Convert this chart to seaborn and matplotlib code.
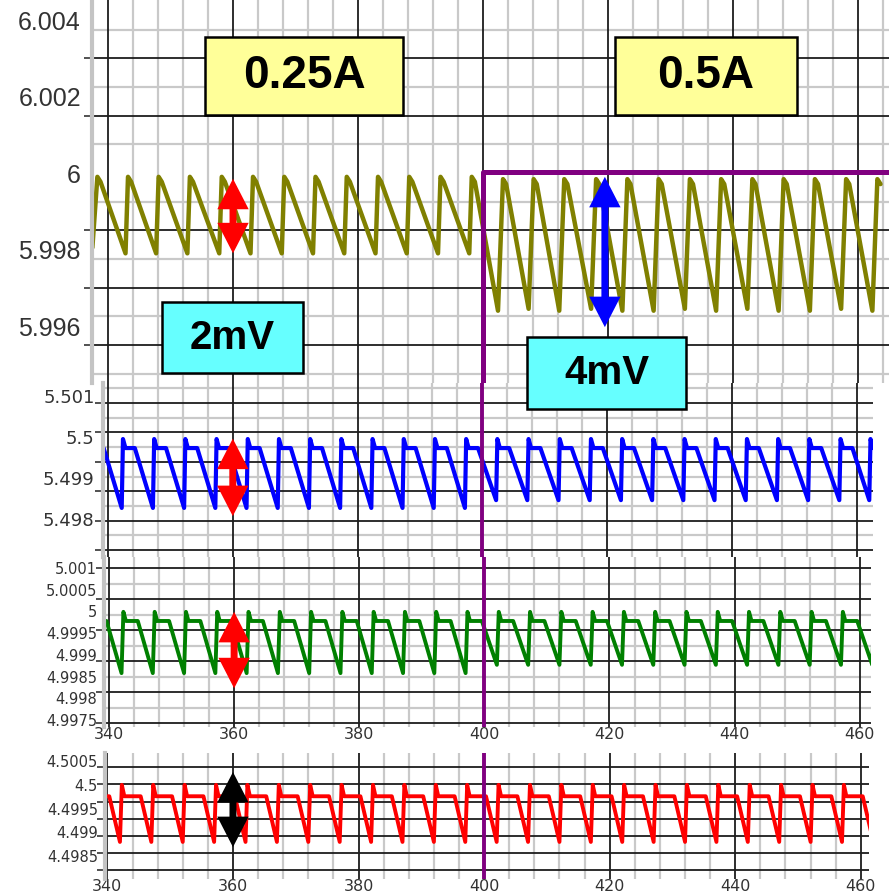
import numpy as np
import pandas as pd
import matplotlib
matplotlib.use("Agg")
import matplotlib.pyplot as plt
import seaborn as sns
from matplotlib.patches import Rectangle
from matplotlib.ticker import FixedLocator, MultipleLocator

# ------------------------------------------------------------------ data
time_ticks = [340, 360, 380, 400, 420, 440, 460]
time_labels = ["340", "360", "380", "400", "420", "440", "460"]

# load current step (A)
load_t = [337.0, 400.0, 466.0]
load_a = [0.25, 0.5, 0.5]

# 6 V rail (olive) – peaks / troughs of each ripple cycle
v6_peak_t = [338.3, 343.2, 348.1, 353.1, 358.2, 363.2, 368.2, 373.2, 378.2, 383.2,
             388.2, 393.2, 398.2, 403.2, 408.1, 413.0, 418.1, 423.1, 428.1, 433.1,
             438.1, 443.1, 448.1, 453.1, 458.1, 463.1]
v6_trough_t = [337.5, 342.8, 347.7, 352.7, 357.8, 362.8, 367.8, 372.8, 377.8, 382.8,
               387.8, 392.8, 397.8, 402.4, 407.3, 412.2, 417.3, 422.3, 427.3, 432.3,
               437.3, 442.3, 447.3, 452.3, 457.3, 462.3]
v6_peak_v = [5.99990, 5.99990, 5.99990, 5.99990, 5.99990, 5.99990, 5.99990, 5.99990,
             5.99990, 5.99990, 5.99990, 5.99990, 5.99990, 5.99984, 5.99984, 5.99984,
             5.99984, 5.99984, 5.99984, 5.99984, 5.99984, 5.99984, 5.99984, 5.99984,
             5.99984, 5.99984]
v6_trough_v = [5.99805, 5.99790, 5.99790, 5.99790, 5.99790, 5.99790, 5.99790, 5.99790,
               5.99790, 5.99790, 5.99790, 5.99790, 5.99790, 5.99640, 5.99645, 5.99640,
               5.99645, 5.99640, 5.99640, 5.99645, 5.99640, 5.99645, 5.99640, 5.99640,
               5.99645, 5.99640]

# 5.5 V rail (blue)
v55_spike_t = [337.4, 342.4, 347.4, 352.4, 357.4, 362.4, 367.4, 372.4, 377.4, 382.4,
               387.4, 392.4, 397.4, 402.4, 407.4, 412.4, 417.4, 422.4, 427.4, 432.4,
               437.4, 442.4, 447.4, 452.4, 457.4, 462.2]
v55_trough_v = [5.49827] * 13 + [5.49846] * 13
v55_levels = [5.49995, 5.49973]          # spike, plateau

# 5 V rail (green)
v5_spike_t = [337.3, 342.3, 347.3, 352.3, 357.3, 362.3, 367.3, 372.3, 377.3, 382.3,
              387.3, 392.3, 397.3, 402.3, 407.3, 412.3, 417.3, 422.3, 427.3, 432.3,
              437.3, 442.3, 447.3, 452.3, 457.3, 462.3]
v5_trough_v = [4.99858] * 13 + [4.99877] * 13
v5_levels = [4.99999, 4.99978]

# 4.5 V rail (red)
v45_spike_t = [337.3, 342.3, 347.3, 352.3, 357.3, 362.3, 367.3, 372.3, 377.3, 382.3,
               387.3, 392.3, 397.3, 402.3, 407.3, 412.3, 417.3, 422.3, 427.3, 432.3,
               437.3, 442.3, 447.3, 452.3, 457.3, 462.3]
v45_trough_v = [4.49880] * 26
v45_levels = [4.50000, 4.49976]

# axis tick labels
v6_ticks = [6.004, 6.002, 6.0, 5.998, 5.996]
v6_ticklabels = ["6.004", "6.002", "6", "5.998", "5.996"]
v55_ticks = [5.501, 5.5, 5.499, 5.498]
v55_ticklabels = ["5.501", "5.5", "5.499", "5.498"]
v5_ticks = [5.001, 5.0005, 5.0, 4.9995, 4.999, 4.9985, 4.998, 4.9975]
v5_ticklabels = ["5.001", "5.0005", "5", "4.9995", "4.999", "4.9985", "4.998", "4.9975"]
v45_ticks = [4.5005, 4.5, 4.4995, 4.499, 4.4985]
v45_ticklabels = ["4.5005", "4.5", "4.4995", "4.499", "4.4985"]

# ripple markers (arrow spans)
arrow_v6_low = [360.0, 5.99985, 5.99790]
arrow_v6_high = [419.5, 5.99990, 5.99597]
arrow_v55 = [360.0, 5.49996, 5.49807]
arrow_v5 = [360.0, 4.99999, 4.99823]
arrow_v45 = [360.0, 4.50027, 4.49869]

# ------------------------------------------------------------------ style
sns.set_theme(style="white")
plt.rcParams["font.family"] = ["DejaVu Sans"]

W, H = 889, 896
fig = plt.figure(figsize=(W / 100, H / 100), dpi=100)
fig.patch.set_facecolor("white")


def fx(px):
    return px / W


def fy(py):
    return 1 - py / H


def add_ax(x0, y0, x1, y1):
    return fig.add_axes([fx(x0), fy(y1), fx(x1) - fx(x0), fy(y0) - fy(y1)])


ax1 = add_ax(92, 0, 889, 383)
ax2 = add_ax(103, 383, 873, 557)
ax3 = add_ax(104, 557, 871, 727)
ax4 = add_ax(105, 753, 869, 879)

BLACK = "#1c1c1c"
LIGHT = "#c9c9c9"
TXT = "#333333"


def style(ax, xlim, ylim, yt, ytl, grid_y, light_y, lab_size, lab_font, pad, show_x):
    ax.set_facecolor("white")
    ax.set_axisbelow(True)
    ax.set_xlim(*xlim)
    ax.set_ylim(*ylim)
    ax.xaxis.set_major_locator(FixedLocator(time_ticks))
    ax.xaxis.set_minor_locator(MultipleLocator(4))
    ax.grid(True, which="major", axis="x", color=BLACK, lw=1.3)
    ax.grid(True, which="minor", axis="x", color=LIGHT, lw=1.6)
    ax.set_yticks(yt)
    ax.set_yticklabels(ytl, fontfamily=lab_font, fontsize=lab_size, color=TXT)
    ax.yaxis.set_minor_locator(FixedLocator(grid_y))
    ax.grid(False, which="major", axis="y")
    ax.grid(True, which="minor", axis="y", color=BLACK, lw=1.3)
    for yv in light_y:
        ax.axhline(yv, color=LIGHT, lw=1.6, zorder=0.3)
    ax.tick_params(axis="y", which="major", length=0, pad=pad)
    ax.tick_params(axis="y", which="minor", length=6, width=1.2, color=TXT,
                   direction="out", left=True)
    ax.tick_params(axis="x", which="both", length=0, bottom=False)
    if show_x:
        ax.set_xticklabels(time_labels, fontsize=11.5, color=TXT)
        ax.tick_params(axis="x", which="major", pad=0, labelbottom=True)
    else:
        ax.tick_params(axis="x", labelbottom=False)
    for s in ["top", "right", "bottom"]:
        ax.spines[s].set_visible(False)
    ax.spines["left"].set_color("#c4c4c4")
    ax.spines["left"].set_linewidth(3.0)
    ax.set_xlabel("")
    ax.set_ylabel("")


# grid line positions (decoration)
g1 = 5.9955 + 0.0015 * np.arange(6)
l1 = np.append(g1 - 0.00075, g1[-1] + 0.00075)
g2 = 5.49724 + 0.000718 * np.arange(6)
l2 = np.append(g2 - 0.000359, g2[-1] + 0.000359)
g3 = 4.997429 + 0.000714 * np.arange(6)
l3 = g3[1:] - 0.000357
g4 = 4.498204 + 0.000361 * np.arange(7)

style(ax1, (337.44, 464.96), (5.99451, 6.004523), v6_ticks, v6_ticklabels, g1, l1,
      18, ["Liberation Sans Narrow", "Liberation Sans"], 8, False)
style(ax2, (339.2, 462.6), (5.497073, 5.501317), v55_ticks, v55_ticklabels, g2, l2,
      13, "DejaVu Sans", 6, False)
style(ax3, (339.2, 461.8), (4.997339, 5.001253), v5_ticks, v5_ticklabels, g3, l3,
      10.5, "DejaVu Sans", 5, True)
style(ax4, (339.62, 461.3), (4.498020, 4.500670), v45_ticks, v45_ticklabels, g4, [],
      10.5, "DejaVu Sans", 5, True)

# ------------------------------------------------------------------ traces
# olive 6 V rail
t6, y6 = [], []
for tt, tv, pt, pv in zip(v6_trough_t, v6_trough_v, v6_peak_t, v6_peak_v):
    t6 += [tt, pt, pt + 0.5]
    y6 += [tv, pv, pv - 0.00013]
df6 = pd.DataFrame({"t": t6, "v": y6})
sns.lineplot(data=df6, x="t", y="v", ax=ax1, color="#808000", linewidth=3.2,
             estimator=None, sort=False, zorder=2)


def switching(spike_t, trough_v, levels, rise, plateau_end):
    t, v = [], []
    for s, tv in zip(spike_t, trough_v):
        t += [s - rise, s, s + 0.4, s + plateau_end]
        v += [tv, levels[0], levels[1], levels[1]]
    return pd.DataFrame({"t": t, "v": v})


df55 = switching(v55_spike_t, v55_trough_v, v55_levels, 0.2, 1.9)
df5 = switching(v5_spike_t, v5_trough_v, v5_levels, 0.3, 2.3)
df45 = switching(v45_spike_t, v45_trough_v, v45_levels, 0.3, 3.0)
sns.lineplot(data=df55, x="t", y="v", ax=ax2, color="#0000ff", linewidth=3.0,
             estimator=None, sort=False, zorder=2)
sns.lineplot(data=df5, x="t", y="v", ax=ax3, color="#008000", linewidth=2.8,
             estimator=None, sort=False, zorder=2)
sns.lineplot(data=df45, x="t", y="v", ax=ax4, color="#ff0000", linewidth=2.8,
             estimator=None, sort=False, zorder=2)
for ax in (ax1, ax2, ax3, ax4):
    ax.set_xlabel("")
    ax.set_ylabel("")

# load current step (purple)
axi = ax1.twinx()
sns.lineplot(x=load_t, y=load_a, ax=axi, color="#800080", linewidth=3.6,
             drawstyle="steps-post", estimator=None, sort=False)
axi.set_ylim(0.3, 0.663)
axi.set_xlim(ax1.get_xlim())
axi.axis("off")
for ax in (ax2, ax3, ax4):
    ax.axvline(load_t[1], color="#800080", lw=2.8, zorder=3)

# ------------------------------------------------------------------ arrows
def dbl_arrow(ax, spec, color):
    ax.annotate("", xy=(spec[0], spec[1]), xytext=(spec[0], spec[2]),
                arrowprops=dict(arrowstyle="<|-|>,head_length=0.7,head_width=0.36",
                                mutation_scale=20, lw=5.0, color=color,
                                joinstyle="miter", capstyle="butt",
                                shrinkA=0, shrinkB=0), zorder=5)


dbl_arrow(ax1, arrow_v6_low, "#ff0000")
dbl_arrow(ax1, arrow_v6_high, "#0000ff")
dbl_arrow(ax2, arrow_v55, "#ff0000")
dbl_arrow(ax3, arrow_v5, "#ff0000")
dbl_arrow(ax4, arrow_v45, "#000000")

# ------------------------------------------------------------------ label boxes
BOLD = ["Liberation Sans", "DejaVu Sans"]


def label_box(x0, y0, x1, y1, text, face, size):
    fig.add_artist(Rectangle((fx(x0), fy(y1)), fx(x1) - fx(x0), fy(y0) - fy(y1),
                             transform=fig.transFigure, facecolor=face,
                             edgecolor="black", lw=1.8, zorder=10))
    fig.text(fx((x0 + x1) / 2), fy((y0 + y1) / 2), text, ha="center", va="center",
             fontsize=size, fontweight="bold", family=BOLD, color="black", zorder=11)


label_box(205, 37, 403, 115, "0.25A", "#ffff99", 33)
label_box(615, 37, 797, 115, "0.5A", "#ffff99", 33)
label_box(162, 302, 303, 373, "2mV", "#66ffff", 29)
label_box(527, 337, 686, 409, "4mV", "#66ffff", 29)

fig.savefig("out.png", dpi=100, facecolor="white")
